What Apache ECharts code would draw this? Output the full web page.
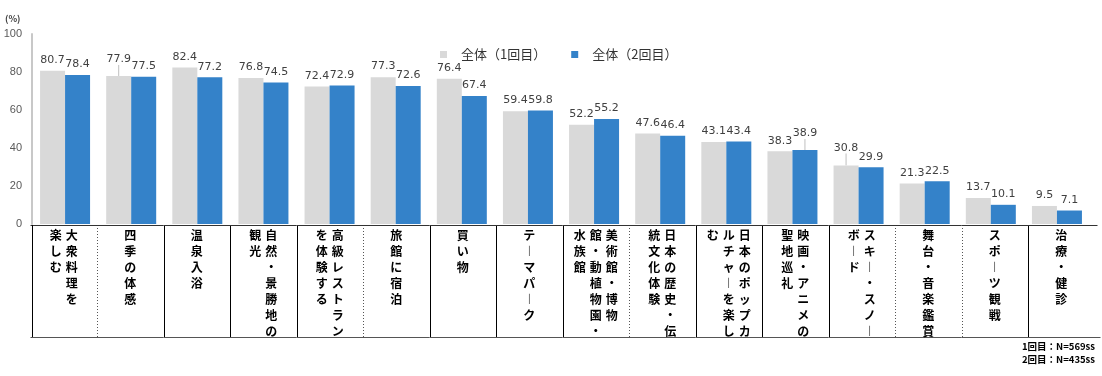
<!DOCTYPE html>
<html>
<head>
<meta charset="utf-8">
<script src="https://cdn.jsdelivr.net/npm/echarts@6/dist/echarts.min.js"></script>
<style>
html,body{margin:0;padding:0;background:#fff;}
#chart{width:1102px;height:376px;}
</style>
</head>
<body>
<div id="chart"></div>
<script>
// ---- data ----
const categories = ['大衆料理を楽しむ', '四季の体感', '温泉入浴', '自然・景勝地の観光', '高級レストランを体験する', '旅館に宿泊', '買い物', 'テーマパーク', '美術館・博物館・動植物園・水族館', '日本の歴史・伝統文化体験', '日本のポップカルチャーを楽しむ', '映画・アニメの聖地巡礼', 'スキー・スノーボード', '舞台・音楽鑑賞', 'スポーツ観戦', '治療・健診'];
// tick labels as printed (vertical writing, "\n" = next column to the left)
const tickLabels = ['大衆料理を\n楽しむ', '四季の体感', '温泉入浴', '自然・景勝地の\n観光', '高級レストラン\nを体験する', '旅館に宿泊', '買い物', 'テーマパーク', '美術館・博物\n館・動植物園・\n水族館', '日本の歴史・伝\n統文化体験', '日本のポップカ\nルチャーを楽し\nむ', '映画・アニメの\n聖地巡礼', 'スキー・スノー\nボード', '舞台・音楽鑑賞', 'スポーツ観戦', '治療・健診'];
const seriesNames = ['全体（1回目）', '全体（2回目）'];
const round1 = [80.7, 77.9, 82.4, 76.8, 72.4, 77.3, 76.4, 59.4, 52.2, 47.6, 43.1, 38.3, 30.8, 21.3, 13.7, 9.5];
const round2 = [78.4, 77.5, 77.2, 74.5, 72.9, 72.6, 67.4, 59.8, 55.2, 46.4, 43.4, 38.9, 29.9, 22.5, 10.1, 7.1];
const yTicks = [0, 20, 40, 60, 80, 100];
const noteLines = ['1回目：N=569ss', '2回目：N=435ss'];

// ---- styling (not data) ----
const sepStyle = ['dot', 'solid', 'solid', 'solid', 'dot', 'solid', 'solid', 'solid', 'dot', 'solid', 'solid', 'solid', 'dot', 'dot', 'solid', 'none'];
const labelLift = [{1: 6, 12: 7}, {11: 6}];
const colors = ['#d9d9d9', '#3482c9'];

const chart = echarts.init(document.getElementById('chart'), null, {renderer: 'canvas'});

function toVertical(s) {
  return s.replace(/ー/g, '︱').split('').join('\n');
}

function barData(values, s) {
  return values.map((v, i) => labelLift[s][i]
    ? {value: v, labelLine: {show: true, lineStyle: {color: '#bfbfbf', width: 1}}}
    : v);
}

function renderTable(params, api) {
  const i = api.value(0);
  const cx = api.coord([i, 0])[0];
  const band = api.size([1, 0])[0];
  const yTop = api.coord([i, 1])[1];
  const yBot = api.coord([i, 0])[1];
  const x0 = cx - band / 2, x1 = cx + band / 2;
  const children = [];
  const last = i === categories.length - 1;
  children.push({type: 'line', shape: {x1: x0, y1: yTop + 0.5, x2: x1 + (last ? 3 : 0), y2: yTop + 0.5}, style: {stroke: '#333', lineWidth: 1}});
  children.push({type: 'line', shape: {x1: x0, y1: yBot + 0.5, x2: x1 + (last ? 6 : 0), y2: yBot + 0.5}, style: {stroke: '#555', lineWidth: 1}});
  if (i === 0) {
    children.push({type: 'line', shape: {x1: Math.round(x0) + 1.5, y1: yTop, x2: Math.round(x0) + 1.5, y2: yBot}, style: {stroke: '#000', lineWidth: 1}});
  }
  const st = sepStyle[i];
  if (st !== 'none') {
    const xs = Math.round(x1) + 0.5;
    children.push({type: 'line', shape: {x1: xs, y1: yTop, x2: xs, y2: yBot},
      style: st === 'dot' ? {stroke: '#555', lineWidth: 1, lineDash: [1, 2]} : {stroke: '#000', lineWidth: 1}});
  }
  const cols = tickLabels[i].split('\n');
  const n = cols.length;
  cols.forEach((c, k) => {
    children.push({type: 'text', x: cx + ((n - 1) / 2 - k) * 16, y: yTop + 2,
      style: {text: toVertical(c), align: 'center', verticalAlign: 'top', fontSize: 12, fontWeight: 'bold',
        fontFamily: '"Noto Sans CJK JP"', lineHeight: 16, fill: '#000'}});
  });
  return {type: 'group', children};
}

const barLabel = {show: true, position: 'top', distance: 5, color: '#404040', fontSize: 11, fontFamily: '"DejaVu Sans"'};

const option = {
  animation: false,
  backgroundColor: '#fff',
  textStyle: {fontFamily: '"Noto Sans CJK JP", sans-serif'},
  legend: {
    left: 435, top: 43, itemWidth: 7, itemHeight: 7, itemGap: 25, icon: 'rect',
    data: seriesNames,
    textStyle: {fontSize: 13, color: '#333', fontFamily: '"Noto Sans CJK JP"', padding: [0, 0, 0, 9]}
  },
  graphic: [
    {type: 'text', left: 5, top: 14, style: {text: '(%)', font: 'bold 9px "Noto Sans CJK JP"', fill: '#404040'}},
    {type: 'text', right: 7, top: 340, style: {text: noteLines.join('\n'), font: 'bold 9.5px "Noto Sans CJK JP"', lineHeight: 13, fill: '#000', align: 'right'}}
  ],
  grid: [
    {left: 32, top: 34, width: 1058, height: 190},
    {left: 30.5, top: 225, width: 1064, height: 112}
  ],
  xAxis: [
    {type: 'category', gridIndex: 0, data: categories, axisLine: {show: false}, axisTick: {show: false}, axisLabel: {show: false}},
    {type: 'category', gridIndex: 1, data: categories, axisLine: {show: false}, axisTick: {show: false}, axisLabel: {show: false}}
  ],
  yAxis: [
    {type: 'value', gridIndex: 0, min: yTicks[0], max: yTicks[yTicks.length - 1], interval: yTicks[1] - yTicks[0],
      axisLine: {show: true, lineStyle: {color: '#c8c8c8', width: 2}}, axisTick: {show: false}, splitLine: {show: false},
      axisLabel: {color: '#595959', fontSize: 11, fontFamily: '"Liberation Sans"', margin: 10}},
    {type: 'value', gridIndex: 1, min: 0, max: 1, show: false}
  ],
  series: [
    {name: seriesNames[0], type: 'bar', xAxisIndex: 0, yAxisIndex: 0, data: barData(round1, 0), barWidth: 25, barGap: '0%',
      itemStyle: {color: colors[0]}, label: barLabel,
      labelLayout: p => (labelLift[0][p.dataIndex] ? {dy: -labelLift[0][p.dataIndex]} : {})},
    {name: seriesNames[1], type: 'bar', xAxisIndex: 0, yAxisIndex: 0, data: barData(round2, 1), barWidth: 25, barGap: '0%',
      itemStyle: {color: colors[1]}, label: barLabel,
      labelLayout: p => (labelLift[1][p.dataIndex] ? {dy: -labelLift[1][p.dataIndex]} : {})},
    {type: 'custom', xAxisIndex: 1, yAxisIndex: 1, clip: false, silent: true,
      data: categories.map((c, i) => [i]), renderItem: renderTable, z: 5}
  ]
};
chart.setOption(option);
</script>
</body>
</html>
